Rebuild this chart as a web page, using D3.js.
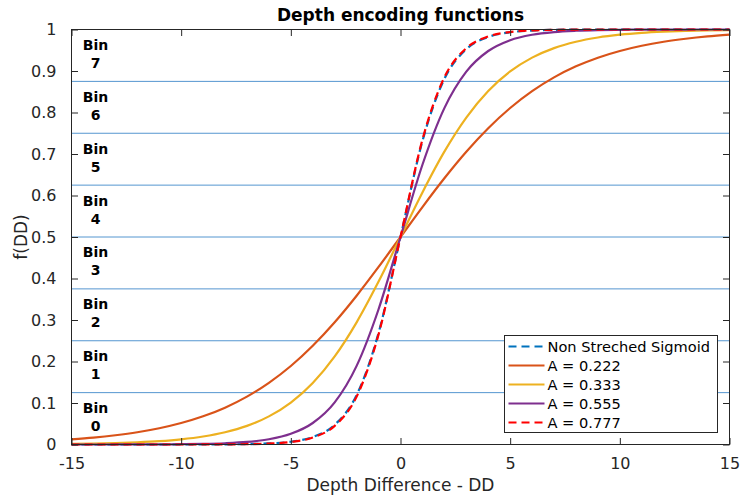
<!DOCTYPE html>
<html>
<head>
<meta charset="utf-8">
<script src="https://cdn.jsdelivr.net/npm/d3@7"></script>
<style>
  html, body { margin: 0; padding: 0; background: #fff; }
  svg { display: block; font-family: "DejaVu Sans", sans-serif; }
</style>
</head>
<body>
<svg id="chart" width="740" height="499"></svg>
<script>
// Depth difference samples (x axis)
const dd = [-15,-14,-13,-12,-11,-10,-9,-8,-7,-6,-5,-4,-3,-2,-1,0,1,2,3,4,5,6,7,8,9,10,11,12,13,14,15];

// f(DD) for each encoding curve
const sigmoidPlain = [0.0000,0.0000,0.0000,0.0000,0.0000,0.0000,0.0001,0.0003,0.0009,0.0025,0.0067,0.0180,0.0474,0.1192,0.2689,0.5,
  0.7311,0.8808,0.9526,0.9820,0.9933,0.9975,0.9991,0.9997,0.9999,1.0000,1.0000,1.0000,1.0000,1.0000,1.0000];
const a222 = [0.0125,0.0167,0.0223,0.0295,0.0391,0.0517,0.0679,0.0888,0.1154,0.1486,0.1892,0.2379,0.2946,0.3585,0.4278,0.5,
  0.5722,0.6415,0.7054,0.7621,0.8108,0.8514,0.8846,0.9112,0.9321,0.9483,0.9609,0.9705,0.9777,0.9833,0.9875];
const a333 = [0.0014,0.0022,0.0034,0.0053,0.0081,0.0125,0.0192,0.0294,0.0448,0.0678,0.1011,0.1483,0.2123,0.2944,0.3925,0.5,
  0.6075,0.7056,0.7877,0.8517,0.8989,0.9322,0.9552,0.9706,0.9808,0.9875,0.9919,0.9947,0.9966,0.9978,0.9986];
const a555 = [0.0000,0.0000,0.0001,0.0002,0.0003,0.0007,0.0014,0.0030,0.0061,0.0126,0.0257,0.0518,0.1015,0.1894,0.3259,0.5,
  0.6741,0.8106,0.8985,0.9482,0.9743,0.9874,0.9939,0.9970,0.9986,0.9993,0.9997,0.9998,0.9999,1.0000,1.0000];
const a777 = [0.0000,0.0000,0.0000,0.0000,0.0000,0.0000,0.0001,0.0003,0.0008,0.0022,0.0061,0.0168,0.0450,0.1154,0.2654,0.5,
  0.7346,0.8846,0.9550,0.9832,0.9939,0.9978,0.9992,0.9997,0.9999,1.0000,1.0000,1.0000,1.0000,1.0000,1.0000];

const seriesNames = ["Non Streched Sigmoid", "A = 0.222", "A = 0.333", "A = 0.555", "A = 0.777"];
const seriesColors = ["#0072BD", "#D95319", "#EDB120", "#7E2F8E", "#FF0000"];
const seriesDashed = [true, false, false, false, true];
const seriesValues = [sigmoidPlain, a222, a333, a555, a777];

// Bin boundaries and labels
const binEdges = [0.125, 0.25, 0.375, 0.5, 0.625, 0.75, 0.875];
const binLabels = ["0", "1", "2", "3", "4", "5", "6", "7"];

const xTicks = [-15, -10, -5, 0, 5, 10, 15];
const yTicks = [0, 0.1, 0.2, 0.3, 0.4, 0.5, 0.6, 0.7, 0.8, 0.9, 1];

const svg = d3.select("#chart");
const L = 71.5, R = 729.5, T = 29.5, B = 444.5;
const x = d3.scaleLinear().domain([-15, 15]).range([L, R]);
const y = d3.scaleLinear().domain([0, 1]).range([B, T]);
const axisColor = "#262626";

// Bin separator lines
svg.append("g").selectAll("line").data(binEdges).join("line")
  .attr("x1", L).attr("x2", R)
  .attr("y1", d => y(d)).attr("y2", d => y(d))
  .attr("stroke", "#5596d0").attr("stroke-width", 1);

// Curves
const line = d3.line().x((d, i) => x(dd[i])).y(d => y(d)).curve(d3.curveMonotoneX);
const curves = svg.append("g");
seriesValues.forEach((vals, k) => {
  curves.append("path")
    .attr("d", line(vals))
    .attr("fill", "none")
    .attr("stroke", seriesColors[k])
    .attr("stroke-width", 2.2)
    .attr("stroke-linejoin", "round")
    .attr("stroke-dasharray", seriesDashed[k] ? "8,5" : null)
    .attr("stroke-dashoffset", k === 0 ? 3 : 0);
});

// Axes (box with inward ticks)
const tickLen = 6.5;
const axG = svg.append("g");
axG.append("rect").attr("x", L).attr("y", T).attr("width", R - L).attr("height", B - T)
  .attr("fill", "none").attr("stroke", axisColor).attr("stroke-width", 1);

const xAxisB = d3.axisBottom(x).tickValues(xTicks).tickSize(-tickLen).tickPadding(13).tickFormat(d => String(d));
const xAxisT = d3.axisTop(x).tickValues(xTicks).tickSize(-tickLen).tickFormat("");
const yAxisL = d3.axisLeft(y).tickValues(yTicks).tickSize(-tickLen).tickPadding(15).tickFormat(d => d === 0 || d === 1 ? String(d) : d3.format(".1f")(d));
const yAxisR = d3.axisRight(y).tickValues(yTicks).tickSize(-tickLen).tickFormat("");

function styleAxis(g) {
  g.select(".domain").remove();
  g.selectAll(".tick line").attr("stroke", axisColor);
  g.selectAll(".tick text").attr("fill", axisColor).style("font-size", "16px").style("font-family", "DejaVu Sans, sans-serif");
}
axG.append("g").attr("transform", `translate(0,${B})`).call(xAxisB).call(styleAxis);
axG.append("g").attr("transform", `translate(0,${T})`).call(xAxisT).call(styleAxis);
axG.append("g").attr("transform", `translate(${L},0)`).call(yAxisL).call(styleAxis);
axG.append("g").attr("transform", `translate(${R},0)`).call(yAxisR).call(styleAxis);

// Bin labels
const bandEdges = [0].concat(binEdges, [1]);
const binG = svg.append("g").attr("font-weight", "bold").attr("font-size", "14px").attr("text-anchor", "middle").attr("fill", "#000");
binLabels.forEach((lab, i) => {
  const cy = (y(bandEdges[i]) + y(bandEdges[i + 1])) / 2;
  binG.append("text").attr("x", 95.5).attr("y", cy - 5.5).text("Bin");
  binG.append("text").attr("x", 95.5).attr("y", cy + 12.5).text(lab);
});

// Title and axis labels
svg.append("text").attr("x", 400.5).attr("y", 21).attr("text-anchor", "middle")
  .attr("font-weight", "bold").attr("font-size", "17px").attr("fill", "#000")
  .text("Depth encoding functions");
svg.append("text").attr("x", 400.5).attr("y", 491).attr("text-anchor", "middle")
  .attr("font-size", "17px").attr("fill", axisColor)
  .text("Depth Difference - DD");
svg.append("text").attr("transform", "translate(27,237) rotate(-90)").attr("text-anchor", "middle")
  .attr("font-size", "17px").attr("fill", axisColor)
  .text("f(DD)");

// Legend
const lgX = 504.5, lgY = 335.5, lgW = 213, lgH = 97, rowH = 19;
const lg = svg.append("g");
lg.append("rect").attr("x", lgX).attr("y", lgY).attr("width", lgW).attr("height", lgH)
  .attr("fill", "#fff").attr("stroke", axisColor).attr("stroke-width", 1);
seriesNames.forEach((name, k) => {
  const ry = lgY + 11 + k * rowH;
  lg.append("line").attr("x1", lgX + 4).attr("x2", lgX + 40).attr("y1", ry).attr("y2", ry)
    .attr("stroke", seriesColors[k]).attr("stroke-width", 2.2)
    .attr("stroke-dasharray", seriesDashed[k] ? "8,5" : null);
  lg.append("text").attr("x", lgX + 43).attr("y", ry + 5).attr("font-size", "14.6px")
    .attr("fill", "#000").text(name);
});
</script>
</body>
</html>
